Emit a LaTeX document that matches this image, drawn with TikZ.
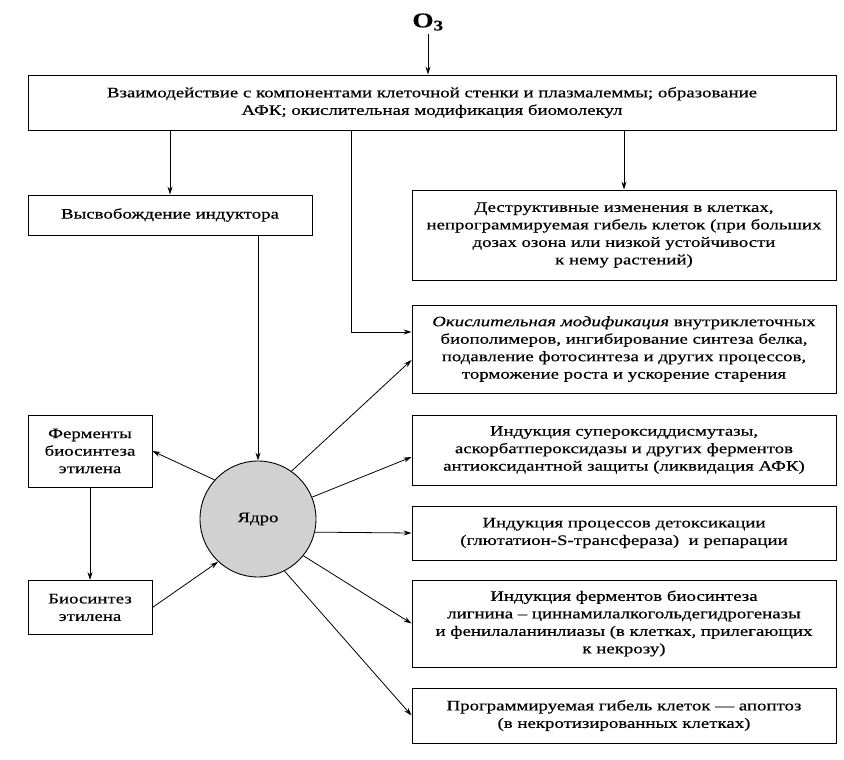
\documentclass[tikz,border=0pt]{standalone}
\usepackage{fontspec}
\setmainfont[FakeStretch=1.3,FakeBold=0.4]{Liberation Serif}
\usetikzlibrary{arrows.meta}

\begin{document}
\begin{tikzpicture}[x=1pt,y=-1pt,
  box/.style={draw=black,line width=0.9pt,align=center,inner sep=0pt,
    font=\fontsize{14.5}{17.5}\selectfont},
  arr/.style={line width=0.8pt,-{Stealth[length=8pt,width=5pt]}}]

\useasboundingbox (0,0) rectangle (844,760);

\node (o3) at (428,22) {\fontsize{21}{21}\selectfont\textbf{O\textsubscript{3}}};

\node[box,minimum width=808,minimum height=55] (top) at (432,102.5)
  {Взаимодействие с компонентами клеточной стенки и плазмалеммы; образование\\
   АФК; окислительная модификация биомолекул};

\node[box,minimum width=284,minimum height=40] (free) at (170,215) {Высвобождение индуктора};

\node[box,minimum width=424,minimum height=90] (destr) at (624,235)
  {Деструктивные изменения в клетках,\\
   непрограммируемая гибель клеток (при больших\\
   дозах озона или низкой устойчивости\\
   к нему растений)};

\node[box,minimum width=424,minimum height=88] (oxid) at (624,349)
  {\textit{Окислительная модификация} внутриклеточных\\
   биополимеров, ингибирование синтеза белка,\\
   подавление фотосинтеза и других процессов,\\
   торможение роста и ускорение старения};

\node[box,minimum width=424,minimum height=70] (sod) at (624,450)
  {Индукция супероксиддисмутазы,\\
   аскорбатпероксидазы и других ферментов\\
   антиоксидантной защиты (ликвидация АФК)};

\node[box,minimum width=424,minimum height=54] (detox) at (624,533)
  {Индукция процессов детоксикации\\
   (глютатион-S-трансфераза) \ и репарации};

\node[box,minimum width=424,minimum height=87] (lignin) at (624,623.5)
  {Индукция ферментов биосинтеза\\
   лигнина -- циннамилалкогольдегидрогеназы\\
   и фенилаланинлиазы (в клетках, прилегающих\\
   к некрозу)};

\node[box,minimum width=424,minimum height=55] (apopt) at (624,715.5)
  {Программируемая гибель клеток --- апоптоз\\
   (в некротизированных клетках)};

\node[box,circle,fill=black!18,minimum size=116] (nucleus) at (258,519) {Ядро};

\node[box,minimum width=124,minimum height=72] (ferm) at (90,451)
  {Ферменты\\ биосинтеза\\ этилена};

\node[box,minimum width=124,minimum height=54] (ethyl) at (90,607.5)
  {Биосинтез\\ этилена};

\coordinate (split) at (351,0);

% from ozone down
\draw[arr] (o3) -- (o3 |- top.north);
\draw[arr] (free.north |- top.south) -- (free.north);
\draw[arr] (destr.north |- top.south) -- (destr.north);
\draw[arr] (split |- top.south) |- ([yshift=17pt]oxid.west);
\draw[arr] (nucleus.north |- free.south) -- (nucleus.north);

% ethylene loop
\draw[arr] (nucleus.138) -- (ferm.east);
\draw[arr] (ferm.south) -- (ethyl.north);
\draw[arr] (ethyl.east) -- (nucleus.227);

% nucleus responses
\draw[arr] (nucleus.55) -- ([yshift=-11pt]oxid.west);
\draw[arr] (nucleus.22) -- ([yshift=-7pt]sod.west);
\draw[arr] (nucleus.-13) -- (detox.west);
\draw[arr] (nucleus.-39) -- (lignin.west);
\draw[arr] (nucleus.-63) -- (apopt.west);

\end{tikzpicture}
\end{document}
